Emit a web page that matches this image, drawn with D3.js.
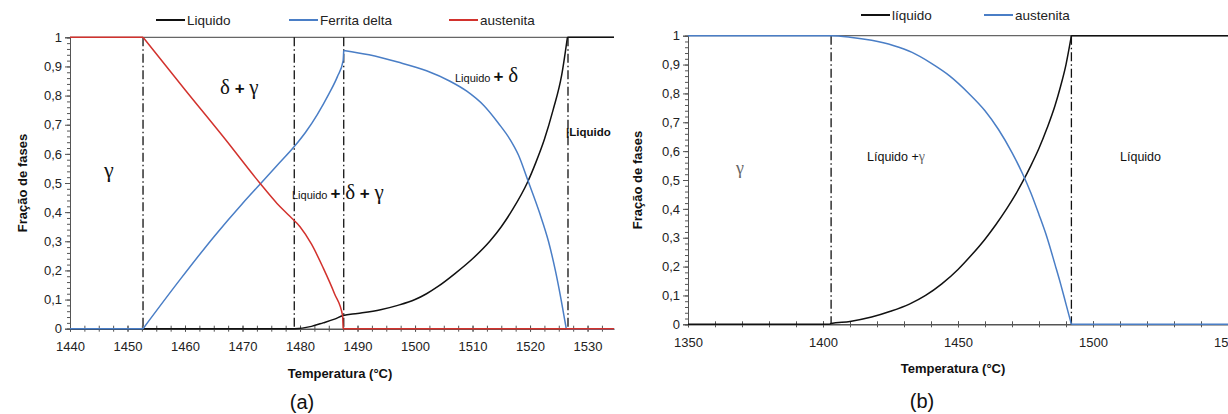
<!DOCTYPE html>
<html><head><meta charset="utf-8">
<script src="https://cdn.jsdelivr.net/npm/d3@7"></script>
<style>
body{margin:0;background:#fff;}
svg{display:block;font-family:Arial,"Liberation Sans",sans-serif;}
</style></head>
<body><svg id="c" width="1228" height="414"></svg>
<script>
// ---------- data: chart (a) ----------
const aLiquido = [[1440,0],[1479,0],[1482,0.008],[1484,0.02],[1486,0.033],[1487.5,0.045],[1490,0.052],[1494,0.065],[1497,0.08],[1500,0.1],[1502,0.12],[1504,0.145],[1507,0.19],[1510,0.24],[1513,0.3],[1515,0.35],[1517,0.41],[1519.5,0.5],[1521,0.57],[1522.5,0.65],[1524,0.75],[1525.5,0.87],[1526.5,1.0],[1534.6,1]];
const aFerrita = [[1440,0],[1452.7,0],[1459.2,0.17],[1465,0.315],[1470,0.43],[1473,0.495],[1476,0.56],[1479,0.625],[1481,0.675],[1483,0.735],[1485,0.805],[1486.5,0.865],[1487.5,0.92],[1487.6,0.955],[1492,0.94],[1497,0.915],[1502,0.885],[1506,0.85],[1509,0.815],[1512,0.765],[1514.5,0.705],[1516.5,0.65],[1518,0.595],[1519.6,0.51],[1521.7,0.395],[1523.2,0.3],[1524.4,0.2],[1525.4,0.1],[1526.3,0],[1534.6,0]];
const aAustenita = [[1440,1],[1452.7,1],[1460,0.82],[1467,0.65],[1473,0.5],[1476,0.43],[1478,0.39],[1480,0.35],[1482,0.29],[1484,0.21],[1486,0.12],[1487.4,0.045],[1487.5,0],[1534.6,0]];
const aBoundaries = [1452.7, 1479, 1487.6, 1526.6];
const aXTicks = [1440,1450,1460,1470,1480,1490,1500,1510,1520,1530];
const aLegend = ["Liquido","Ferrita delta","austenita"];

// ---------- data: chart (b) ----------
const bLiquido = [[1350,0],[1402.5,0],[1403,0.003],[1410,0.01],[1418,0.025],[1425,0.045],[1432,0.07],[1438,0.1],[1444,0.14],[1450,0.19],[1455,0.24],[1460,0.295],[1464,0.345],[1468,0.4],[1471,0.445],[1474,0.495],[1477,0.55],[1480,0.61],[1483,0.68],[1486,0.76],[1488,0.825],[1490,0.9],[1492,1],[1550,1]];
const bAustenita = [[1350,1],[1403,1],[1410,0.995],[1418,0.984],[1426,0.966],[1433,0.942],[1440,0.905],[1447,0.86],[1454,0.8],[1460,0.74],[1465,0.675],[1470,0.595],[1474,0.52],[1477,0.455],[1480,0.38],[1483,0.3],[1486,0.205],[1488,0.14],[1490,0.07],[1492,0],[1550,0]];
const bBoundaries = [1403, 1492];
const bXTicks = [1350,1400,1450,1500,1550];
const bLegend = ["líquido","austenita"];

const yTicks = [0,0.1,0.2,0.3,0.4,0.5,0.6,0.7,0.8,0.9,1];

const BLACK="#111", BLUE="#4a7ec6", RED="#d2322d", AXIS="#555";
const svg = d3.select("#c");
const fmt = v => v===0?"0":v===1?"1":String(v).replace(".",",");

// split a polyline (in pixel space) into smooth pieces at sharp corners
function pieces(pts){
  const out=[]; let cur=[pts[0]];
  for(let i=1;i<pts.length;i++){
    cur.push(pts[i]);
    if(i<pts.length-1){
      const a1=Math.atan2(pts[i][1]-pts[i-1][1],pts[i][0]-pts[i-1][0]);
      const a2=Math.atan2(pts[i+1][1]-pts[i][1],pts[i+1][0]-pts[i][0]);
      let d=Math.abs(a2-a1); if(d>Math.PI) d=2*Math.PI-d;
      if(d>0.55){ out.push(cur); cur=[pts[i]]; }
    }
  }
  out.push(cur); return out;
}

function panel(o){
  const x = d3.scaleLinear().domain(o.xDomain).range(o.xRange);
  const y = d3.scaleLinear().domain([0,1]).range(o.yRange);
  const g = svg.append("g");
  g.append("line").attr("x1",x.range()[0]).attr("x2",x.range()[1])
    .attr("y1",y(1)).attr("y2",y(1)).attr("stroke","#666").attr("stroke-width",1.2);
  g.selectAll(".bd").data(o.bounds).join("line")
    .attr("x1",d=>x(d)).attr("x2",d=>x(d)).attr("y1",y(1)).attr("y2",y(0))
    .attr("stroke","#111").attr("stroke-width",1.3).attr("stroke-dasharray","9,3,1.5,3");
  const ya = g.append("g").attr("transform",`translate(${x.range()[0]},0)`);
  ya.call(d3.axisLeft(y).tickValues(d3.range(0,1.0001,0.02)).tickSize(3).tickFormat(""));
  ya.append("g").call(d3.axisLeft(y).tickValues(yTicks).tickSize(5).tickFormat(fmt));
  ya.selectAll("path.domain").attr("stroke",AXIS);
  ya.selectAll(".tick line").attr("stroke",AXIS);
  ya.selectAll(".tick text").attr("font-size",13).attr("fill","#222").attr("font-family","Arial");
  const xa = g.append("g").attr("transform",`translate(0,${y(0)})`);
  xa.call(d3.axisBottom(x).tickValues(d3.range(o.xDomain[0],o.xDomain[1]+0.001,o.minor)).tickSizeInner(3).tickSizeOuter(0).tickFormat(""));
  xa.selectAll(".tick line").attr("y1",-3);
  const xl = xa.append("g").call(d3.axisBottom(x).tickValues(o.xTicks).tickSize(3).tickFormat(d3.format("d")));
  xl.select("path.domain").remove();
  xl.selectAll(".tick line").attr("y1",-3);
  xa.selectAll("path.domain").attr("stroke",AXIS).attr("stroke-width",1.5);
  xa.selectAll(".tick line").attr("stroke",AXIS);
  xl.selectAll(".tick text").attr("font-size",13).attr("fill","#222").attr("dy","1.25em").attr("font-family","Arial");
  const line = d3.line().curve(d3.curveMonotoneX);
  o.series.forEach(s=>{
    const px = s.data.map(d=>[x(d[0]),y(d[1])]);
    const path = pieces(px).map(p=>line(p)).join("");
    g.append("path").attr("d",path).attr("fill","none")
      .attr("stroke",s.color).attr("stroke-width",1.5).attr("stroke-linejoin","round");
  });
  const lg = g.append("g");
  o.series.forEach((s,i)=>{
    const lx = o.legendX[i];
    lg.append("line").attr("x1",lx).attr("x2",lx+29).attr("y1",o.legendY).attr("y2",o.legendY)
      .attr("stroke",s.color).attr("stroke-width",2);
    lg.append("text").attr("x",lx+31).attr("y",o.legendY+4.5).attr("font-size",13.5).attr("fill","#222").text(s.name);
  });
  g.append("text").attr("transform",`translate(${o.yTitleX},${(y(0)+y(1))/2}) rotate(-90)`)
    .attr("text-anchor","middle").attr("font-weight","bold").attr("font-size",13).attr("fill","#111").text("Fração de fases");
  g.append("text").attr("x",o.xTitleX).attr("y",o.xTitleY).attr("text-anchor","middle")
    .attr("font-weight","bold").attr("font-size",13).attr("fill","#111").text("Temperatura (°C)");
  g.append("text").attr("x",o.capX).attr("y",o.capY).attr("text-anchor","middle")
    .attr("font-size",20).attr("fill","#111").text(o.cap);
  return {x,y,g};
}

const A = panel({xDomain:[1440,1534.6], xRange:[70,614], yRange:[328.7,37.3], bounds:aBoundaries,
  xTicks:aXTicks, minor:2.5,
  series:[{name:aLegend[0],data:aLiquido,color:BLACK},{name:aLegend[1],data:aFerrita,color:BLUE},{name:aLegend[2],data:aAustenita,color:RED}],
  legendX:[156,289,449], legendY:20, yTitleX:27, xTitleX:340, xTitleY:378, capX:302, capY:409, cap:"(a)"});

const B = panel({xDomain:[1350,1550], xRange:[688,1228], yRange:[324.3,35.7], bounds:bBoundaries,
  xTicks:bXTicks, minor:10,
  series:[{name:bLegend[0],data:bLiquido,color:BLACK},{name:bLegend[1],data:bAustenita,color:BLUE}],
  legendX:[861,984], legendY:15, yTitleX:642, xTitleX:953, xTitleY:373, capX:922, capY:408, cap:"(b)"});

const serif = "'Liberation Serif','DejaVu Serif',serif";
function ann(g,x,y,parts){
  const t = g.append("text").attr("x",x).attr("y",y);
  parts.forEach(p=>{
    const s=t.append("tspan").text(p.t).attr("font-size",p.s).attr("fill",p.c||"#111");
    if(p.serif) s.attr("font-family",serif);
    if(p.b) s.attr("font-weight","bold");
  });
}
ann(A.g,104,177,[{t:"γ",s:22,serif:true}]);
ann(A.g,220,94,[{t:"δ",s:21,serif:true},{t:" + ",s:17,b:true},{t:"γ",s:21,serif:true}]);
ann(A.g,292,199,[{t:"Liquido ",s:11},{t:"+ ",s:17,b:true},{t:"δ",s:21,serif:true},{t:" + ",s:17,b:true},{t:"γ",s:21,serif:true}]);
ann(A.g,455,82,[{t:"Liquido ",s:11},{t:"+ ",s:17,b:true},{t:"δ",s:21,serif:true}]);
ann(A.g,566,136,[{t:"|Liquido",s:11.5,b:true}]);
ann(B.g,736,174,[{t:"γ",s:18,serif:true,c:"#666"}]);
ann(B.g,867,161,[{t:"Líquido +",s:12.5},{t:"γ",s:14,serif:true,c:"#666"}]);
ann(B.g,1120,161,[{t:"Líquido",s:12.5}]);
</script></body></html>
